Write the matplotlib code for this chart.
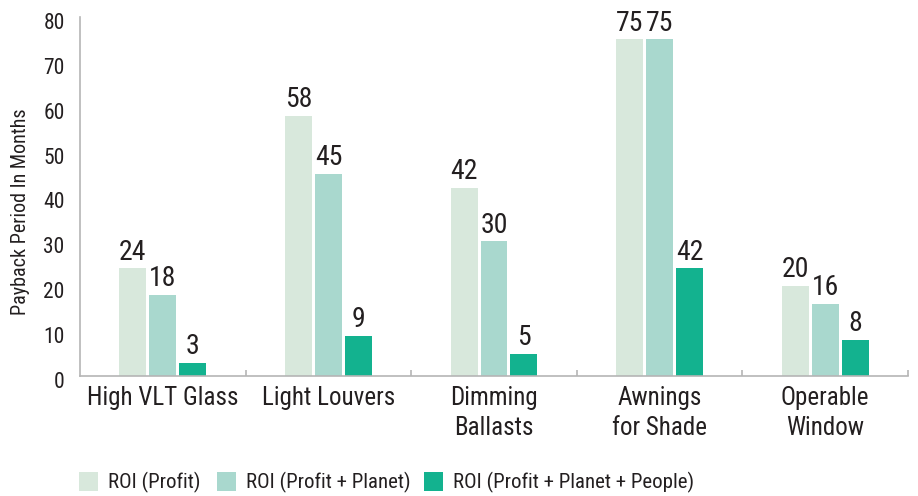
import matplotlib
matplotlib.use("Agg")
import matplotlib.pyplot as plt
import matplotlib.transforms as mtransforms
from matplotlib import font_manager
from matplotlib.patches import Rectangle
import numpy as np

# pick a narrow face if one is installed
names = {f.name for f in font_manager.fontManager.ttflist}
narrow = [f.name for f in font_manager.fontManager.ttflist
          if f.stretch in ("condensed", "semi-condensed", "extra-condensed")
          or "Condensed" in f.name or "Narrow" in f.name]
pick = None
for cand in ["Liberation Sans Narrow", "DejaVu Sans Condensed",
             "Roboto Condensed", "Open Sans Condensed"]:
    if cand in names:
        pick = cand
        break
if pick is None and narrow:
    pick = sorted(narrow)[0]
fams = ([pick] if pick else []) + ["DejaVu Sans"]
plt.rcParams['font.family'] = fams
if pick is not None:
    plt.rcParams['font.stretch'] = "condensed"
SCALE = 1.0 if pick else 0.85

categories = ["High VLT Glass", "Light Louvers", "Dimming\nBallasts",
              "Awnings\nfor Shade", "Operable\nWindow"]
series_names = ["ROI (Profit)", "ROI (Profit + Planet)",
                "ROI (Profit + Planet + People)"]
profit = [24, 58, 42, 75, 20]
profit_planet = [18, 45, 30, 75, 16]
profit_planet_people = [3, 9, 5, 24, 8]
# value labels as printed on the chart
labels_profit = ["24", "58", "42", "75", "20"]
labels_profit_planet = ["18", "45", "30", "75", "16"]
labels_ppp = ["3", "9", "5", "42", "8"]

colors = ["#d8e8dc", "#a9d8ce", "#13b28f"]
TEXT = "#231f20"
GREY = "#b5b5b5"

fig = plt.figure(figsize=(9.18, 4.96), dpi=100)
ax = fig.add_axes([80 / 918, 1 - 376 / 496, 828 / 918, 359 / 496])

x = np.arange(len(categories))
width = 0.163
step = 0.181
all_vals = [profit, profit_planet, profit_planet_people]
all_labels = [labels_profit, labels_profit_planet, labels_ppp]
for i, (vals, labs) in enumerate(zip(all_vals, all_labels)):
    pos = x + (i - 1) * step
    ax.bar(pos, vals, width, color=colors[i], zorder=2)
    for p, v, t in zip(pos, vals, labs):
        ax.annotate(t, (p, v), xytext=(0, 2), textcoords="offset points",
                    ha="center", va="bottom", fontsize=20 * SCALE, color=TEXT)

ax.set_xlim(-0.5, 4.5)
ax.set_ylim(0, 80)
ax.set_yticks(range(0, 81, 10))
ax.set_xticks(x)
ax.set_xticklabels(categories, fontsize=18 * SCALE, color=TEXT, linespacing=1.35)
ax.set_xticks(np.arange(0.5, 5, 1), minor=True)
ax.tick_params(axis="x", which="major", length=0, pad=7)
ax.tick_params(axis="x", which="minor", direction="in", length=4,
               width=1.2, color=GREY)
ax.tick_params(axis="y", length=0, pad=11, labelsize=15.5 * SCALE, labelcolor=TEXT)
shift = mtransforms.ScaledTranslation(0, -4 / 100, fig.dpi_scale_trans)
for lab in ax.get_yticklabels():
    lab.set_transform(lab.get_transform() + shift)

for s in ["top", "right"]:
    ax.spines[s].set_visible(False)
for s in ["left", "bottom"]:
    ax.spines[s].set_color(GREY)
    ax.spines[s].set_linewidth(1.2)

fig.text(21 / 918, 1 - 212 / 496, "Payback Period In Months", rotation=90,
         ha="center", va="center", fontsize=14.5 * SCALE, color=TEXT)

# legend drawn by hand at fixed spots
leg_x = [79, 217, 424]
for xs, c, name in zip(leg_x, colors, series_names):
    fig.patches.append(Rectangle((xs / 918, 1 - 491 / 496), 19 / 918, 19 / 496,
                                 transform=fig.transFigure, facecolor=c,
                                 edgecolor="none"))
    fig.text((xs + 29) / 918, 1 - 482 / 496, name, ha="left", va="center",
             fontsize=15 * SCALE, color=TEXT)

fig.savefig("out.png", dpi=100)
